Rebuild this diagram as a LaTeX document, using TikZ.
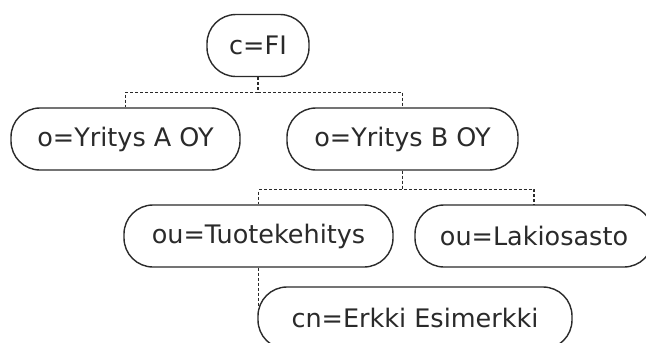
\documentclass[tikz,border=0pt]{standalone}
\usepackage{fontspec}
\setmainfont{DejaVu Sans}
\usetikzlibrary{calc}
\definecolor{linec}{HTML}{2A2A2A}
\definecolor{textc}{HTML}{2A2A2A}
\begin{document}
\begin{tikzpicture}[x=1pt,y=-1pt,
  entry/.style={draw=linec, line width=1.4pt, fill=white, rounded corners=29pt,
    minimum height=62pt, inner sep=0pt, text=textc,
    font=\fontsize{25.5}{30}\selectfont},
  link/.style={draw=linec, line width=1.2pt, dash pattern=on 3pt off 2pt}]
\useasboundingbox (0,0) rectangle (646,343);
\clip (0,0) rectangle (646,343);
\node[entry, minimum width=102pt] (fi) at (258,45.5) {c=FI};
\node[entry, minimum width=229pt] (a) at (125.5,139) {o=Yritys A OY};
\node[entry, minimum width=231pt] (b) at (402.5,139) {o=Yritys B OY};
\node[entry, minimum width=269pt] (t) at (258.5,236) {ou=Tuotekehitys};
\node[entry, minimum width=238pt] (l) at (534,236) {ou=Lakiosasto};
\node[entry, minimum width=314pt] (cn) at (415,318) {cn=Erkki Esimerkki};
\draw[link] (fi.south) -- ++(0,15) -| (a.north);
\draw[link] (fi.south) -- ++(0,15) -| (b.north);
\draw[link] (b.south) -- ++(0,19) -| (t.north);
\draw[link] (b.south) -- ++(0,19) -| (l.north);
\coordinate (cnin) at ($(t.south |- cn.west)+(0,-12)$);
\draw[link] (t.south) -- (cnin);
\end{tikzpicture}
\end{document}
